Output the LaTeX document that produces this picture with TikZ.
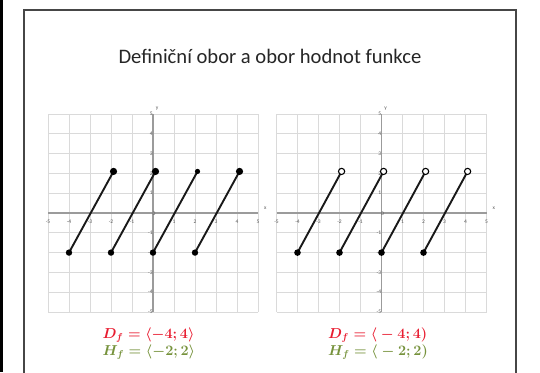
\documentclass[tikz,border=0pt]{standalone}
\usepackage{fontspec}
\setmainfont{Carlito}
\definecolor{dred}{RGB}{232,28,48}
\definecolor{hgreen}{RGB}{118,146,60}
\definecolor{gridc}{RGB}{218,218,218}
\definecolor{axisc}{RGB}{155,155,155}
\definecolor{framec}{RGB}{70,70,70}
\definecolor{tickc}{RGB}{90,90,90}
\tikzset{
  titletext/.style={font=\fontsize{20.6}{22}\selectfont, text=black!85, inner sep=0pt},
  ticklbl/.style={font=\fontsize{5.5}{6}\selectfont, text=tickc, inner sep=0.6pt},
  gridline/.style={gridc, line width=0.8pt},
  axisline/.style={axisc, line width=1.1pt},
  seg/.style={black!90, line width=1.9pt, line cap=round},
  dlabel/.style={font=\fontsize{14}{15}\selectfont\boldmath, text=dred, anchor=west, inner sep=0pt},
  hlabel/.style={font=\fontsize{14}{15}\selectfont\boldmath, text=hgreen, anchor=west, inner sep=0pt},
  opendot/.style={fill=white, draw=black, line width=1.1pt},
}
\newcommand\plotframe{%
  \foreach \k in {-5,...,5}{
    \draw[gridline] (\k,-5) -- (\k,5);
    \draw[gridline] (-5,\k) -- (5,\k);
  }
  \draw[axisline] (-5,0) -- (5,0);
  \draw[axisline] (0,-5) -- (0,5);
  \foreach \i in {-5,-4,-3,-2,-1,1,2,3,4,5}{
    \node[ticklbl, anchor=north] (xt\i) at (\i,-0.3) {\i};
    \node[ticklbl, anchor=east] (yt\i) at (0.02,\i) {\i};
  }
  \node[ticklbl] (zero) at (0.05,-0.05) {0};
  \node[ticklbl, anchor=south] (xl) at (5.35,0.15) {x};
  \node[ticklbl, anchor=west] (yl) at (0.1,5.25) {y};
}
\begin{document}
\begin{tikzpicture}[x=1pt,y=1pt]
\useasboundingbox (0,0) rectangle (540,372);
\fill[black] (0,0) rectangle (3.3,372);
\draw[framec, line width=1.5pt] (24,-5) -- (24,362) -- (516,362) -- (516,-5);
\node[titletext] (title) at (270,316) {Definiční obor a obor hodnot funkce};

% left graph
\begin{scope}[shift={(153pt,159pt)}, x=21pt, y=19.8pt]
  \plotframe
  \foreach \a in {-4,-2,0,2}{
    \coordinate (La\a) at (\a,-2);
    \coordinate (Lb\a) at ({\a+2.12},2.1);
    \draw[seg] (La\a) -- (Lb\a);
    \fill (La\a) circle (3.2pt);
  }
  \fill (Lb-4) circle (3.6pt);
  \fill (Lb-2) circle (3.6pt);
  \fill (Lb0) circle (2.6pt);
  \fill (Lb2) circle (3.6pt);
\end{scope}

% right graph
\begin{scope}[shift={(381.5pt,159pt)}, x=21pt, y=19.8pt]
  \plotframe
  \foreach \a in {-4,-2,0,2}{
    \coordinate (Ra\a) at (\a,-2);
    \coordinate (Rb\a) at ({\a+2.1},2.1);
    \draw[seg] (Ra\a) -- (Rb\a);
    \fill (Ra\a) circle (3.3pt);
    \filldraw[opendot] (Rb\a) circle (3.1pt);
  }
\end{scope}

\node[dlabel] (dl) at (102.5,37) {$D_f = \langle -4;4\rangle$};
\node[hlabel] (hl) at (102.5,20) {$H_f = \langle -2;2\rangle$};
\node[dlabel] (dr) at (328,37) {$D_f = \langle {}-4;4)$};
\node[hlabel] (hr) at (328,20) {$H_f = \langle {}-2;2)$};
\end{tikzpicture}
\end{document}
